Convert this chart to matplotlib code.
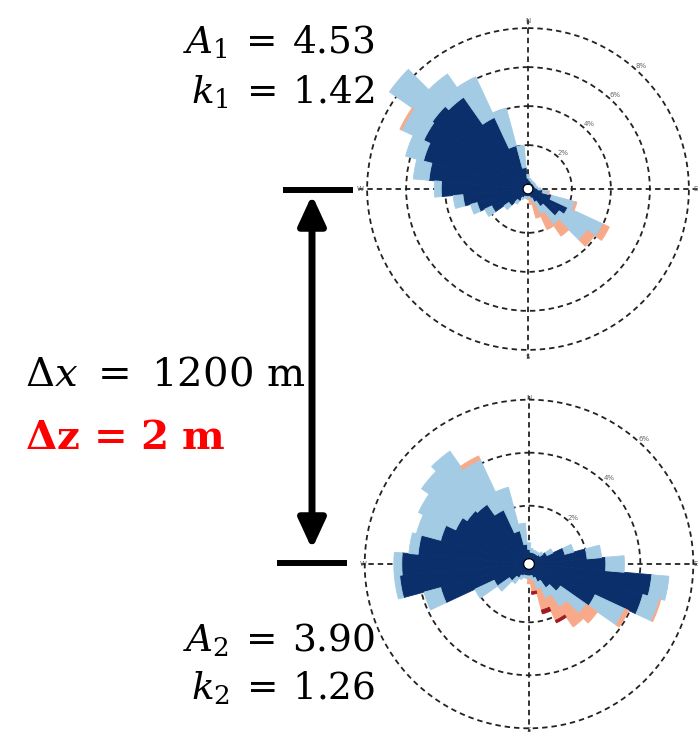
import numpy as np
import matplotlib
matplotlib.use('Agg')
import matplotlib.pyplot as plt
from matplotlib.patches import FancyArrowPatch
from matplotlib.lines import Line2D

plt.rcParams['mathtext.fontset'] = 'dejavuserif'

# ---------------- data ----------------
directions = np.arange(0, 360, 10)  # sector centres (deg, clockwise from N)

# upper site: frequency (%) per sector and speed class
top_navy = [0.3, 0.2, 0.15, 0.1, 0.1, 0.1, 0.1, 0.1, 0.15, 0.25, 0.5, 1.0,
            2.0, 1.7, 0.85, 0.5, 0.25, 0.15, 0.15, 0.15, 0.15, 0.25, 0.5, 0.95,
            1.8, 2.45, 3.1, 4.2, 4.85, 5.3, 5.65, 5.75, 5.5, 3.8, 2.05, 0.85]
top_lightblue = [0.2, 0.1, 0.1, 0.1, 0.1, 0.1, 0.1, 0.1, 0.1, 0.15, 0.3, 1.25,
                 2.0, 1.75, 1.15, 0.7, 0.3, 0.1, 0.1, 0.1, 0.1, 0.1, 0.2, 0.3,
                 0.4, 0.35, 0.5, 0.35, 0.8, 0.95, 1.25, 2.8, 1.45, 2.3, 2.0, 1.15]
top_salmon = [0, 0, 0, 0, 0, 0, 0, 0, 0, 0, 0.05, 0.1,
              0.35, 0.45, 0.7, 0.85, 0.75, 0.3, 0.05, 0, 0, 0, 0, 0,
              0, 0, 0, 0, 0, 0, 0.1, 0.2, 0, 0, 0, 0]

# lower site
bot_navy = [0.35, 0.25, 0.25, 0.25, 0.25, 0.3, 0.55, 1.2, 2.0, 2.7, 4.45, 4.25,
            2.55, 1.25, 0.9, 0.55, 0.35, 0.25, 0.25, 0.25, 0.25, 0.3, 0.45, 0.7,
            1.25, 3.25, 4.7, 4.6, 4.0, 3.25, 2.85, 2.65, 2.55, 2.05, 1.1, 0.55]
bot_lightblue = [0.25, 0.15, 0.1, 0.1, 0.1, 0.15, 0.25, 0.35, 0.55, 0.7, 0.65, 0.65,
                 1.25, 1.2, 0.9, 0.7, 0.45, 0.2, 0.1, 0.1, 0.1, 0.15, 0.25, 0.55,
                 0.8, 0.65, 0.2, 0.3, 0.35, 0.95, 1.55, 2.1, 2.45, 2.1, 1.7, 0.8]
bot_salmon = [0, 0, 0, 0, 0, 0, 0, 0, 0, 0, 0, 0.05,
              0.15, 0.5, 0.9, 0.9, 0.8, 0.4, 0.2, 0, 0, 0, 0, 0,
              0, 0, 0, 0, 0, 0, 0, 0, 0, 0.15, 0, 0]
bot_darkred = [0, 0, 0, 0, 0, 0, 0, 0, 0, 0, 0, 0,
               0, 0, 0, 0.1, 0.15, 0.1, 0, 0, 0, 0, 0, 0,
               0, 0, 0, 0, 0, 0, 0, 0, 0, 0, 0, 0]

top_rings = [2, 4, 6, 8]
top_ring_labels = ['2%', '4%', '6%', '8%']
bot_rings = [2, 4, 6]
bot_ring_labels = ['2%', '4%', '6%']
cardinals = ['N', 'E', 'S', 'W']

colors = ['#0b2f6b', '#a3cbe4', '#f7a98a', '#a01a1e']

W, H = 700, 744
fig = plt.figure(figsize=(W / 100, H / 100), dpi=100)
fig.patch.set_facecolor('white')


def rose(cx, cy, scale, rmax, rorig, series, rings, ring_labels):
    R = (rmax + rorig) * scale
    ax = fig.add_axes([(cx - R) / W, 1 - (cy + R) / H, 2 * R / W, 2 * R / H],
                      projection='polar')
    ax.patch.set_facecolor('none')
    ax.set_theta_zero_location('N')
    ax.set_theta_direction(-1)
    theta = np.deg2rad(directions)
    width = np.deg2rad(10)
    bottom = np.zeros(len(directions))
    for vals, col in zip(series, colors):
        vals = np.asarray(vals, dtype=float)
        m = vals > 0
        ax.bar(theta[m], vals[m], width=width, bottom=bottom[m], color=col,
               edgecolor=col, linewidth=0.6, align='center', zorder=2)
        bottom = bottom + vals
    ax.set_ylim(0, rmax)
    ax.set_rorigin(-rorig)
    ax.set_axisbelow(True)
    ax.set_thetagrids([0, 90, 180, 270], labels=cardinals)
    ax.set_rgrids(rings, labels=ring_labels, angle=42)
    ax.grid(True, color='#222222', linestyle=(0, (3, 2.2)), linewidth=1.3)
    ax.tick_params(axis='x', labelsize=5, colors='#666666', pad=-12)
    ax.tick_params(axis='y', labelsize=5, colors='#666666')
    for sp in ax.spines.values():
        sp.set_visible(False)
    return ax


rose(528, 189, 19.5, 8.45, 0.25,
     [top_navy, top_lightblue, top_salmon], top_rings, top_ring_labels)
rose(529, 564, 26.5, 6.15, 0.2,
     [bot_navy, bot_lightblue, bot_salmon, bot_darkred], bot_rings, bot_ring_labels)

# ---------------- annotations ----------------
fig.text(375 / W, 1 - 42 / H, r'$A_1\:=\:4.53$', ha='right', va='center', fontsize=27)
fig.text(375 / W, 1 - 92 / H, r'$k_1\:=\:1.42$', ha='right', va='center', fontsize=27)
fig.text(375 / W, 1 - 640 / H, r'$A_2\:=\:3.90$', ha='right', va='center', fontsize=27)
fig.text(375 / W, 1 - 688 / H, r'$k_2\:=\:1.26$', ha='right', va='center', fontsize=27)
fig.text(25 / W, 1 - 375 / H, r'$\Delta x\ =\ 1200\ \mathrm{m}$', ha='left', va='center',
         fontsize=29)
fig.text(25 / W, 1 - 438 / H, r'$\mathbf{\Delta z\,=\,2\ m}$', ha='left', va='center',
         fontsize=29, color='#ff0000')

arrow = FancyArrowPatch((312 / W, 1 - 195 / H), (312 / W, 1 - 549 / H),
                        transform=fig.transFigure,
                        arrowstyle='<|-|>,head_length=18,head_width=8.3',
                        mutation_scale=1, lw=5, color='black',
                        shrinkA=0, shrinkB=0)
fig.add_artist(arrow)
fig.add_artist(Line2D([283 / W, 353 / W], [1 - 189.5 / H] * 2, transform=fig.transFigure,
                      color='black', lw=4.3, solid_capstyle='butt'))
fig.add_artist(Line2D([277 / W, 347 / W], [1 - 563 / H] * 2, transform=fig.transFigure,
                      color='black', lw=4.3, solid_capstyle='butt'))

fig.savefig('out.png', dpi=100, facecolor='white')
